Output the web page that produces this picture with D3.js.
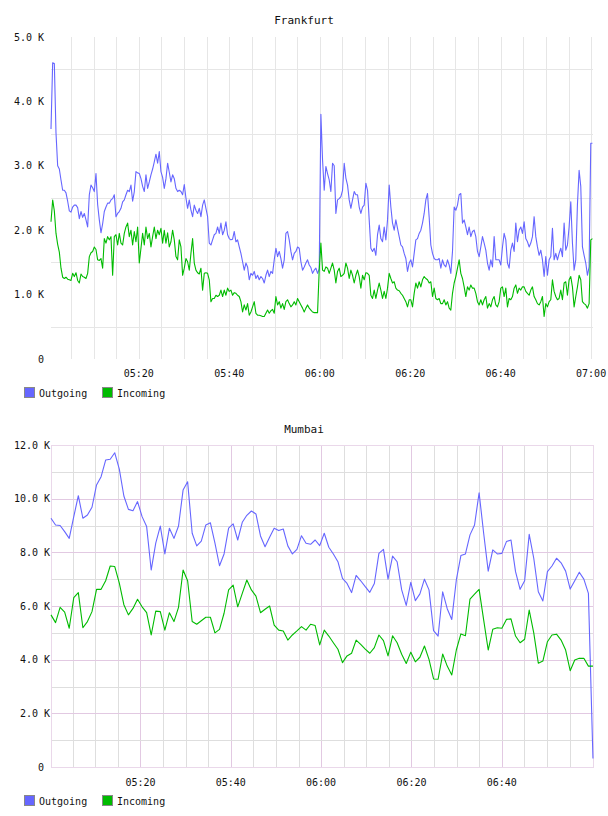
<!DOCTYPE html>
<html>
<head>
<meta charset="utf-8">
<script src="https://cdn.jsdelivr.net/npm/d3@7"></script>
<style>
  body { margin: 0; background: #fff; }
  text { font-family: "DejaVu Sans Mono", monospace; fill: #111; }
</style>
</head>
<body>
<svg id="chart" width="608" height="816"></svg>
<script>
// ---- data (values in thousands) ----
const seriesNames = ['Outgoing', 'Incoming'];

// Frankfurt: one sample about every 22 s
const fraStart = '05:00:35', fraEnd = '07:00:25', fraStepSec = 22.1;
const fraOutgoing = [
  3.57, 4.6, 4.59, 3.51, 3.0, 2.95, 2.78, 2.62, 2.62, 2.58,
  2.45, 2.3, 2.28, 2.36, 2.39, 2.39, 2.35, 2.18, 2.29, 2.2,
  2.26, 2.16, 2.05, 2.55, 2.7, 2.66, 2.6, 2.88, 2.4, 2.16,
  1.96, 2.1, 2.29, 2.36, 2.42, 2.42, 2.47, 2.49, 2.55, 2.21,
  2.26, 2.29, 2.34, 2.44, 2.47, 2.55, 2.62, 2.6, 2.7, 2.45,
  2.6, 2.91, 2.89, 2.88, 2.8, 2.68, 2.6, 2.86, 2.65, 2.75,
  2.86, 2.95, 3.06, 3.18, 3.04, 3.22, 2.91, 2.82, 2.65, 2.8,
  3.04, 2.9, 2.75, 2.86, 2.8, 2.65, 2.6, 2.62, 2.6, 2.55,
  2.71, 2.5, 2.34, 2.47, 2.31, 2.21, 2.39, 2.31, 2.26, 2.34,
  2.21, 2.39, 2.47, 2.34, 2.21, 1.8, 1.77, 1.85, 1.93, 1.95,
  2.05, 1.95, 2.11, 1.93, 2.0, 2.13, 1.93, 1.87, 1.85, 1.86,
  1.98, 1.82, 1.85, 1.74, 1.64, 1.51, 1.38, 1.49, 1.43, 1.23,
  1.33, 1.3, 1.36, 1.25, 1.3, 1.23, 1.28, 1.25, 1.18, 1.3,
  1.38, 1.28, 1.36, 1.33, 1.54, 1.72, 1.59, 1.67, 1.56, 1.41,
  1.54, 1.95, 1.98, 1.85, 1.67, 1.54, 1.64, 1.67, 1.74, 1.72,
  1.51, 1.38, 1.43, 1.49, 1.54, 1.46, 1.42, 1.33, 1.38, 1.41,
  1.33, 1.4, 3.8, 3.09, 2.62, 2.99, 2.88, 2.78, 2.6, 3.04,
  3.0, 2.26, 2.47, 2.49, 2.52, 2.62, 3.04, 2.81, 2.7, 2.47,
  2.34, 2.47, 2.6, 2.55, 2.55, 2.36, 2.26, 2.36, 2.39, 2.73,
  2.62, 2.16, 1.72, 1.67, 1.72, 1.61, 1.93, 2.08, 1.87, 1.82,
  2.05, 1.85, 2.16, 2.7, 2.36, 2.11, 2.0, 2.16, 2.03, 1.9,
  1.77, 1.74, 1.64, 1.56, 1.36, 1.49, 1.54, 1.43, 1.64, 1.85,
  1.87, 1.95, 2.0, 2.11, 2.26, 2.47, 2.57, 2.2, 1.77, 1.64,
  1.56, 1.54, 1.54, 1.56, 1.41, 1.54, 1.46, 1.43, 1.54, 1.46,
  1.33, 1.67, 2.36, 2.31, 2.39, 2.55, 2.57, 2.11, 2.16, 2.05,
  1.93, 2.05, 1.9, 1.98, 2.0, 1.9, 1.67, 1.59, 1.74, 1.9,
  1.8, 1.69, 1.49, 1.38, 1.54, 1.43, 1.9, 1.54, 1.54, 1.54,
  1.46, 1.74, 1.95, 1.85, 1.49, 1.41, 1.69, 1.8, 1.67, 2.11,
  1.82, 2.0, 2.05, 1.95, 2.13, 1.87, 1.82, 1.74, 1.8, 1.9,
  2.21, 1.9, 1.74, 1.61, 1.69, 1.54, 1.28, 1.59, 1.3, 1.54,
  1.59, 2.03, 1.54, 1.64, 1.54, 1.64, 1.72, 1.59, 2.11, 1.69,
  1.77, 2.05, 2.44, 1.8, 1.38, 1.54, 2.4, 2.93, 2.68, 1.74,
  1.61, 1.49, 1.3, 1.43, 3.35, 3.35
];
const fraIncoming = [
  2.13, 2.47, 2.3, 1.95, 1.78, 1.66, 1.41, 1.27, 1.25, 1.27,
  1.24, 1.23, 1.22, 1.33, 1.28, 1.34, 1.22, 1.18, 1.32, 1.28,
  1.27, 1.25, 1.33, 1.59, 1.65, 1.67, 1.74, 1.7, 1.54, 1.53,
  1.56, 1.41, 1.87, 1.8, 1.9, 1.85, 1.9, 1.3, 1.9, 1.93,
  1.77, 1.95, 1.8, 1.77, 1.95, 2.05, 2.11, 1.9, 2.0, 1.77,
  1.98, 1.82, 2.05, 1.49, 1.72, 1.95, 1.77, 2.05, 1.87, 1.95,
  1.74, 1.9, 2.05, 1.87, 2.0, 1.93, 2.03, 1.8, 2.0, 1.8,
  1.96, 1.74, 1.82, 2.0, 1.85, 1.59, 1.54, 1.85, 1.74, 1.3,
  1.41, 1.56, 1.51, 1.38, 1.64, 1.87, 1.49, 1.38, 1.34, 1.32,
  1.41, 1.07, 1.33, 1.34, 1.33, 1.23, 0.89, 0.94, 0.94, 0.99,
  0.97, 0.99, 1.07, 0.97, 1.07, 0.99, 1.1, 1.05, 1.07, 0.99,
  1.03, 1.02, 0.99, 0.97, 0.89, 0.73, 0.84, 0.76, 0.86, 0.68,
  0.73, 0.81, 0.89, 0.71, 0.68, 0.68, 0.67, 0.66, 0.66, 0.71,
  0.76, 0.71, 0.75, 0.77, 0.71, 0.97, 0.84, 0.89, 0.79, 0.86,
  0.77, 0.89, 0.92, 0.86, 0.81, 0.84, 0.89, 0.84, 0.94, 0.89,
  0.84, 0.79, 0.73, 0.79, 0.84, 0.79, 0.76, 0.73, 0.72, 0.72,
  0.72, 1.38, 1.8, 1.38, 1.36, 1.43, 1.41, 1.33, 1.41, 1.49,
  1.38, 1.18, 1.36, 1.41, 1.28, 1.3, 1.33, 1.49, 1.41, 1.25,
  1.38, 1.3, 1.18, 1.3, 1.38, 1.28, 1.1, 1.3, 1.23, 1.34,
  1.33, 1.3, 0.99, 0.94, 1.07, 0.94, 1.07, 1.18, 1.07, 0.94,
  1.05, 0.94, 1.1, 1.33, 1.25, 1.18, 1.2, 1.1, 1.07, 1.06,
  1.02, 0.99, 0.94, 0.89, 0.81, 0.92, 0.92, 0.81, 1.02, 1.18,
  1.1, 1.2, 1.12, 1.23, 1.28, 1.25, 1.23, 1.18, 1.2, 0.97,
  1.1, 0.94, 0.92, 0.94, 0.86, 0.86, 0.92, 0.84, 0.89, 0.79,
  0.76, 1.02, 1.18, 1.28, 1.41, 1.54, 1.33, 1.25, 1.12, 0.97,
  1.12, 1.07, 1.15, 1.1, 1.1, 1.02, 0.89, 0.84, 0.92, 0.84,
  0.92, 0.97, 0.79, 0.86, 0.81, 0.92, 0.97, 0.84, 0.81, 0.89,
  1.1, 1.12, 0.97, 1.1, 0.81, 0.94, 0.92, 0.97, 1.1, 1.15,
  1.02, 1.1, 1.07, 1.12, 1.12, 1.05, 1.02, 0.99, 1.07, 1.12,
  0.97, 0.92, 0.86, 0.84, 0.89, 0.97, 0.66, 0.86, 0.81, 0.89,
  0.92, 1.23, 1.05, 0.97, 0.92, 0.94, 1.07, 0.92, 1.18, 1.2,
  0.99, 1.23, 1.28, 1.12, 0.81, 0.97, 1.12, 1.3, 1.23, 0.89,
  0.86, 0.84, 0.79, 0.86, 1.85, 1.87
];

// Mumbai: one sample about every minute
const mumStart = '05:00:12', mumEnd = '07:00:12', mumStepSec = 60.5;
const mumOutgoing = [
  9.27, 9.02, 9.0, 8.77, 8.52, 9.33, 10.11, 9.27, 9.39, 9.68,
  10.51, 10.82, 11.44, 11.47, 11.71, 11.1, 10.1, 9.6, 9.55, 9.89,
  9.33, 8.96, 7.34, 8.34, 8.98, 7.94, 8.9, 8.52, 8.98, 10.32,
  10.63, 8.71, 8.24, 8.42, 9.02, 9.1, 8.34, 7.5, 7.94, 8.9,
  9.06, 8.46, 9.12, 9.38, 9.54, 9.43, 8.61, 8.21, 8.56, 8.9,
  8.81, 8.87, 8.24, 7.94, 8.11, 8.62, 8.34, 8.3, 8.46, 8.25,
  8.71, 8.19, 7.94, 7.65, 7.03, 6.84, 6.5, 7.14, 6.94, 6.72,
  6.51, 6.84, 7.96, 8.11, 7.0, 7.86, 7.65, 6.6, 6.02, 6.88,
  6.2, 6.45, 7.0, 6.6, 5.08, 4.88, 6.53, 5.9, 5.5, 6.97,
  7.88, 7.94, 8.65, 9.02, 10.22, 8.71, 7.3, 8.09, 7.94, 7.96,
  8.4, 8.46, 7.28, 6.62, 6.94, 8.67, 7.78, 6.53, 6.19, 7.28,
  7.49, 7.78, 7.61, 7.3, 6.63, 6.94, 7.26, 7.0, 6.47, 0.32
];
const mumIncoming = [
  5.67, 5.38, 5.95, 5.77, 5.17, 6.31, 6.5, 5.19, 5.42, 5.79,
  6.62, 6.62, 6.94, 7.49, 7.47, 6.85, 6.05, 5.67, 5.91, 6.25,
  5.97, 5.75, 4.92, 5.81, 5.79, 5.1, 5.75, 5.42, 5.95, 7.34,
  6.94, 5.42, 5.32, 5.45, 5.58, 5.58, 5.0, 5.13, 5.73, 6.6,
  6.78, 5.97, 6.47, 6.97, 6.6, 6.37, 5.75, 5.88, 6.0, 5.29,
  5.1, 5.07, 4.73, 4.92, 5.07, 5.23, 5.1, 5.32, 5.27, 4.55,
  5.1, 4.88, 4.63, 4.39, 3.89, 4.14, 4.24, 4.73, 4.57, 4.39,
  4.24, 4.45, 4.92, 4.71, 4.14, 4.89, 4.63, 4.2, 3.86, 4.28,
  3.92, 4.09, 4.51, 4.01, 3.28, 3.27, 4.21, 3.76, 3.43, 4.36,
  4.96, 4.89, 6.26, 6.44, 6.62, 5.48, 4.36, 5.13, 5.19, 5.17,
  5.5, 5.52, 4.88, 4.63, 4.76, 5.85, 5.0, 3.87, 3.95, 4.67,
  4.92, 4.95, 4.73, 4.36, 3.59, 3.99, 4.05, 4.05, 3.76, 3.76
];

// tick labels
const fraTimeTicks = ['05:20', '05:40', '06:00', '06:20', '06:40', '07:00'];
const mumTimeTicks = ['05:20', '05:40', '06:00', '06:20', '06:40'];
const fraValueTicks = [0, 1, 2, 3, 4, 5];
const mumValueTicks = [0, 2, 4, 6, 8, 10, 12];

// ---- drawing ----
const colors = {Outgoing: '#6666ff', Incoming: '#00bb00'};
const svg = d3.select('#chart');
const parseTime = d3.timeParse('%H:%M:%S');
const parseTick = d3.timeParse('%H:%M');

function toSeries(start, stepSec, values) {
  const t0 = parseTime(start).getTime();
  return values.map((v, i) => ({t: new Date(t0 + i * stepSec * 1000), v: v}));
}

function valueLabel(v) {
  return v === 0 ? '0' : d3.format('.1f')(v) + ' K';
}

function drawChart(o) {
  const g = svg.append('g');
  const x = d3.scaleTime()
    .domain([parseTime(o.start), parseTime(o.end)])
    .range([o.left, o.right]);
  const y = d3.scaleLinear()
    .domain([0, d3.max(o.valueTicks)])
    .range([o.bottom, o.top]);

  // vertical grid, every 5 minutes; 20-minute lines may be coloured differently
  let minutes = d3.timeMinute.every(5).range(x.domain()[0], x.domain()[1]);
  if (o.border) minutes = minutes.filter(d => x(d) < o.right - 3);
  g.append('g').selectAll('line')
    .data(minutes)
    .join('line')
    .attr('x1', d => Math.round(x(d)) + 0.5)
    .attr('x2', d => Math.round(x(d)) + 0.5)
    .attr('y1', o.top)
    .attr('y2', o.bottom)
    .attr('stroke', d => d.getMinutes() % 20 === 0 ? o.vMajor : o.vMinor);

  // horizontal grid
  g.append('g').selectAll('line')
    .data(o.minorValues)
    .join('line')
    .attr('x1', o.left)
    .attr('x2', o.right)
    .attr('y1', d => Math.round(y(d)) + 0.5)
    .attr('y2', d => Math.round(y(d)) + 0.5)
    .attr('stroke', o.hMinor);
  if (o.hMajor) {
    g.append('g').selectAll('line')
      .data(o.valueTicks)
      .join('line')
      .attr('x1', o.left)
      .attr('x2', o.right)
      .attr('y1', d => Math.round(y(d)) + 0.5)
      .attr('y2', d => Math.round(y(d)) + 0.5)
      .attr('stroke', o.hMajor);
  }
  if (o.border) {
    g.append('rect')
      .attr('x', o.left + 0.5)
      .attr('y', o.top + 0.5)
      .attr('width', o.right - o.left)
      .attr('height', o.bottom - o.top)
      .attr('fill', 'none')
      .attr('stroke', o.border);
  }

  // lines
  const line = d3.line()
    .x(d => x(d.t))
    .y(d => y(d.v));
  const data = {
    Outgoing: toSeries(o.start, o.step, o.outgoing),
    Incoming: toSeries(o.start, o.step, o.incoming)
  };
  seriesNames.forEach(function(name) {
    g.append('path')
      .datum(data[name])
      .attr('d', line)
      .attr('fill', 'none')
      .attr('stroke', colors[name])
      .attr('stroke-width', 1.1)
      .attr('stroke-linejoin', 'round');
  });

  // value labels
  g.append('g').selectAll('text')
    .data(o.valueTicks)
    .join('text')
    .attr('x', d => d === 0 ? o.zeroLabelX : o.labelX)
    .attr('y', d => y(d))
    .attr('dy', '0.35em')
    .attr('text-anchor', 'end')
    .attr('font-size', 10)
    .text(valueLabel);

  // time labels
  g.append('g').selectAll('text')
    .data(o.timeTicks)
    .join('text')
    .attr('x', d => x(parseTick(d)))
    .attr('y', o.timeLabelY)
    .attr('dy', '0.35em')
    .attr('text-anchor', 'middle')
    .attr('font-size', 10)
    .text(d => d);

  // title
  g.append('text')
    .attr('x', 304)
    .attr('y', o.titleY)
    .attr('dy', '0.35em')
    .attr('text-anchor', 'middle')
    .attr('font-size', 11)
    .text(o.title);

  // legend
  const leg = g.append('g').selectAll('g')
    .data(seriesNames)
    .join('g')
    .attr('transform', (d, i) => `translate(${24 + i * 78},${o.legendY})`);
  leg.append('rect')
    .attr('x', 0.5).attr('y', 0.5)
    .attr('width', 10).attr('height', 10)
    .attr('fill', d => colors[d])
    .attr('stroke', '#888');
  leg.append('text')
    .attr('x', 15)
    .attr('y', 6)
    .attr('dy', '0.35em')
    .attr('font-size', 10)
    .text(d => d);
}

drawChart({
  title: 'Frankfurt', titleY: 20,
  left: 51, right: 593, top: 37, bottom: 359,
  start: fraStart, end: fraEnd, step: fraStepSec,
  outgoing: fraOutgoing, incoming: fraIncoming,
  valueTicks: fraValueTicks, minorValues: d3.range(0.5, 5, 1),
  timeTicks: fraTimeTicks,
  vMajor: '#e6e6e6', vMinor: '#e6e6e6', hMinor: '#e6e6e6', hMajor: null, border: null,
  labelX: 44, zeroLabelX: 44, timeLabelY: 373, legendY: 387
});

drawChart({
  title: 'Mumbai', titleY: 429,
  left: 51, right: 593, top: 445, bottom: 767,
  start: mumStart, end: mumEnd, step: mumStepSec,
  outgoing: mumOutgoing, incoming: mumIncoming,
  valueTicks: mumValueTicks, minorValues: d3.range(1, 12, 2),
  timeTicks: mumTimeTicks,
  vMajor: '#e2c9e2', vMinor: '#dedede', hMinor: '#dedede', hMajor: '#e2c9e2', border: '#ead8ea',
  labelX: 50, zeroLabelX: 44, timeLabelY: 782, legendY: 795
});
</script>
</body>
</html>
